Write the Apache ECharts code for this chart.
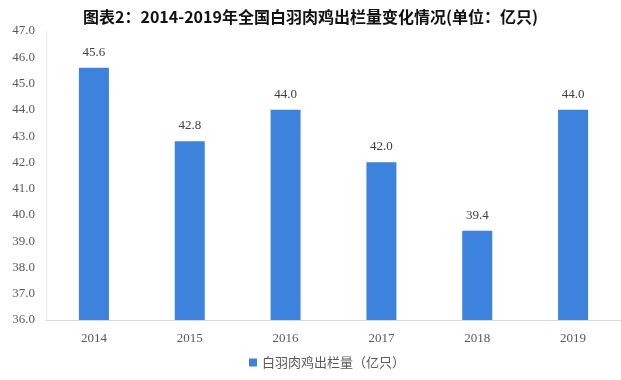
<!DOCTYPE html>
<html>
<head>
<meta charset="utf-8">
<script src="https://cdn.jsdelivr.net/npm/echarts@6/dist/echarts.min.js"></script>
<style>html,body{margin:0;padding:0;background:#fff;}#c{width:621px;height:380px;}</style>
</head>
<body>
<div id="c"></div>
<script>
const categories = ['2014','2015','2016','2017','2018','2019'];
const values = [45.6, 42.8, 44.0, 42.0, 39.4, 44.0];
const seriesName = '白羽肉鸡出栏量（亿只）';
const titleText = '图表2：2014-2019年全国白羽肉鸡出栏量变化情况(单位：亿只)';

const chart = echarts.init(document.getElementById('c'), null, {renderer:'canvas'});
chart.setOption({
  animation: false,
  backgroundColor: '#ffffff',
  title: {
    text: titleText, left: 'center', top: 4,
    textStyle: {fontFamily: 'Noto Sans CJK SC', fontWeight: 'bold', fontSize: 16, color: '#111111'}
  },
  legend: {
    bottom: 6, left: 244, itemWidth: 8, itemHeight: 8, icon: 'rect', itemGap: 4,
    textStyle: {fontFamily: 'Noto Sans CJK SC', fontSize: 13, color: '#595959'},
    data: [seriesName]
  },
  grid: {left: 46, right: 0, top: 31, bottom: 60, containLabel: false},
  xAxis: {
    type: 'category', data: categories,
    axisLine: {lineStyle: {color: '#d9d9d9'}},
    axisTick: {show: false},
    axisLabel: {fontFamily: 'Liberation Serif', fontSize: 13, color: '#595959', margin: 12}
  },
  yAxis: {
    type: 'value', min: 36, max: 47, interval: 1,
    axisLine: {show: true, lineStyle: {color: '#e6e6e6'}},
    axisTick: {show: false},
    splitLine: {show: false},
    axisLabel: {fontFamily: 'Liberation Serif', fontSize: 13, color: '#595959', margin: 11,
      formatter: v => v.toFixed(1)}
  },
  series: [{
    name: seriesName, type: 'bar', data: values, barWidth: 30,
    itemStyle: {color: '#3d83dd'},
    label: {show: true, position: 'top', distance: 9, fontFamily: 'Liberation Serif', fontSize: 13, color: '#404040',
      formatter: p => p.value.toFixed(1)}
  }]
});
</script>
</body>
</html>
